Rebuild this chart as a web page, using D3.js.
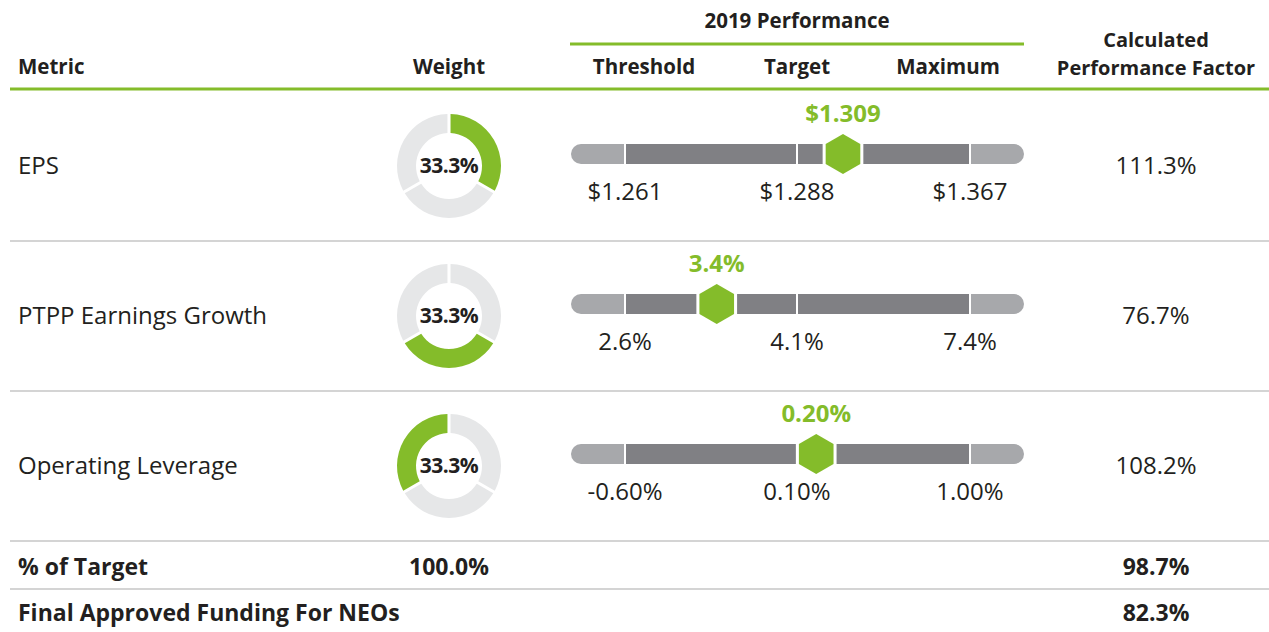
<!DOCTYPE html>
<html>
<head>
<meta charset="utf-8">
<script src="https://cdn.jsdelivr.net/npm/d3@7"></script>
<style>
  body { margin: 0; background: #fff; }
  svg text { font-family: "Open Sans", sans-serif; fill: #231f20; }
  .hdr { font-weight: 700; font-size: 20.5px; }
  .big { font-size: 24px; }
  .bold { font-weight: 700; }
</style>
</head>
<body>
<script>
const width = 1269, height = 632;

// data
const metrics = ['EPS', 'PTPP Earnings Growth', 'Operating Leverage'];
const weights = [33.3, 33.3, 33.3];
const thresholds = [1.261, 2.6, -0.60];
const targets = [1.288, 4.1, 0.10];
const maximums = [1.367, 7.4, 1.00];
const actuals = [1.309, 3.4, 0.20];
const factors = [111.3, 76.7, 108.2];
const formats = ['$.3f', '.1f', '.2f'];
const suffixes = ['', '%', '%'];
const totalWeight = 100.0;
const pctOfTarget = 98.7;
const finalFunding = 82.3;

const green = '#84bc2a', darkGrey = '#808084', lightGrey = '#a7a8ab', ringGrey = '#e6e7e8';

// plain hyphen for negatives, like the source table
const locale = d3.formatLocale({decimal: '.', thousands: ',', grouping: [3], currency: ['$', ''], minus: '-'});
const pct = v => locale.format('.1f')(v) + '%';

const svg = d3.select('body').append('svg')
  .attr('width', width)
  .attr('height', height);

const col = {metric: 18, weight: 449, thr: 625, tgt: 797, max: 970, factor: 1156};
const fig = {left: 10, right: 1269, headLine: 89, rowH: 150};
const rowY = i => fig.headLine + 77 + i * fig.rowH;

// header
svg.append('text').attr('class', 'hdr')
  .attr('x', col.tgt).attr('y', 21).attr('dy', '0.35em')
  .attr('text-anchor', 'middle').text('2019 Performance');
svg.append('line')
  .attr('x1', 570).attr('x2', 1024).attr('y1', 44).attr('y2', 44)
  .attr('stroke', green).attr('stroke-width', 3);

const heads = [
  {t: 'Metric', x: col.metric, a: 'start'},
  {t: 'Weight', x: col.weight, a: 'middle'},
  {t: 'Threshold', x: 644, a: 'middle'},
  {t: 'Target', x: col.tgt, a: 'middle'},
  {t: 'Maximum', x: 948, a: 'middle'}
];
svg.selectAll('.h').data(heads).join('text')
  .attr('class', 'hdr')
  .attr('x', d => d.x).attr('y', 67).attr('dy', '0.35em')
  .attr('text-anchor', d => d.a)
  .text(d => d.t);
// two-line header for the last column
svg.selectAll('.h2').data(['Calculated', 'Performance Factor']).join('text')
  .attr('class', 'hdr')
  .attr('font-size', '20px').style('font-size', '20px')
  .attr('x', col.factor).attr('y', (d, k) => 40 + k * 28).attr('dy', '0.35em')
  .attr('text-anchor', 'middle')
  .text(d => d);

svg.append('line')
  .attr('x1', fig.left).attr('x2', fig.right)
  .attr('y1', fig.headLine).attr('y2', fig.headLine)
  .attr('stroke', green).attr('stroke-width', 3);

// row separators
const seps = [241, 391, 541, 589];
svg.selectAll('.sep').data(seps).join('line')
  .attr('x1', fig.left).attr('x2', fig.right)
  .attr('y1', d => d).attr('y2', d => d)
  .attr('stroke', '#c6c6c6').attr('stroke-width', 1.5);

// donuts
const pie = d3.pie().sort(null).padAngle(0.05);
const arc = d3.arc().innerRadius(33).outerRadius(52);
const hex = r => d3.range(6).map(k => {
  const a = Math.PI / 3 * k;
  return [r * Math.sin(a), -r * Math.cos(a)];
});

metrics.forEach((m, i) => {
  const cy = rowY(i);
  const g = svg.append('g');

  g.append('text').attr('class', 'big')
    .attr('x', col.metric).attr('y', cy).attr('dy', '0.35em')
    .text(m);

  const donut = g.append('g').attr('transform', 'translate(' + col.weight + ',' + cy + ')');
  donut.selectAll('path').data(pie(weights)).join('path')
    .attr('d', arc)
    .attr('fill', (d, j) => j === i ? green : ringGrey);
  donut.append('text').attr('class', 'bold')
    .attr('text-anchor', 'middle').attr('dy', '0.35em')
    .attr('font-size', '21px')
    .attr('letter-spacing', '-0.5px')
    .text(pct(weights[i]));

  // performance bar
  const x = d3.scaleLinear()
    .domain([thresholds[i], targets[i], maximums[i]])
    .range([col.thr, col.tgt, col.max]);
  const by = cy - 12, bh = 20;
  const fmt = v => locale.format(formats[i])(v) + suffixes[i];

  g.append('rect')
    .attr('x', x(thresholds[i]) - 54).attr('y', by - bh / 2)
    .attr('width', x(maximums[i]) - x(thresholds[i]) + 108).attr('height', bh)
    .attr('rx', bh / 2).attr('fill', lightGrey);
  g.append('rect')
    .attr('x', x(thresholds[i])).attr('y', by - bh / 2)
    .attr('width', x(maximums[i]) - x(thresholds[i])).attr('height', bh)
    .attr('fill', darkGrey);

  const ticks = [thresholds[i], targets[i], maximums[i]];
  g.selectAll('.tk').data(ticks).join('line')
    .attr('x1', d => x(d)).attr('x2', d => x(d))
    .attr('y1', by - bh / 2).attr('y2', by + bh / 2)
    .attr('stroke', '#fff').attr('stroke-width', 2);
  g.selectAll('.tl').data(ticks).join('text')
    .attr('class', 'big')
    .attr('x', d => x(d)).attr('y', cy + 26).attr('dy', '0.35em')
    .attr('text-anchor', 'middle')
    .text(fmt);

  // actual marker
  const mx = x(actuals[i]);
  g.append('polygon')
    .attr('points', hex(23.5).map(p => [p[0] + mx, p[1] + by].join(',')).join(' '))
    .attr('fill', '#fff');
  g.append('polygon')
    .attr('points', hex(20).map(p => [p[0] + mx, p[1] + by].join(',')).join(' '))
    .attr('fill', green);
  g.append('text').attr('class', 'big bold')
    .attr('x', mx).attr('y', cy - 52).attr('dy', '0.35em')
    .attr('text-anchor', 'middle')
    .style('fill', green)
    .text(fmt(actuals[i]));

  g.append('text').attr('class', 'big')
    .attr('x', col.factor).attr('y', cy).attr('dy', '0.35em')
    .attr('text-anchor', 'middle')
    .text(pct(factors[i]));
});

// totals
const totals = [
  {label: '% of Target', w: totalWeight, f: pctOfTarget, y: 567},
  {label: 'Final Approved Funding For NEOs', w: null, f: finalFunding, y: 613}
];
totals.forEach(t => {
  const row = svg.append('g').attr('font-size', '23px');
  row.append('text').attr('class', 'bold')
    .attr('x', col.metric).attr('y', t.y).attr('dy', '0.35em')
    .text(t.label);
  if (t.w !== null) {
    row.append('text').attr('class', 'bold')
      .attr('x', col.weight).attr('y', t.y).attr('dy', '0.35em')
      .attr('text-anchor', 'middle')
      .text(pct(t.w));
  }
  row.append('text').attr('class', 'bold')
    .attr('x', col.factor).attr('y', t.y).attr('dy', '0.35em')
    .attr('text-anchor', 'middle')
    .text(pct(t.f));
});
</script>
</body>
</html>
